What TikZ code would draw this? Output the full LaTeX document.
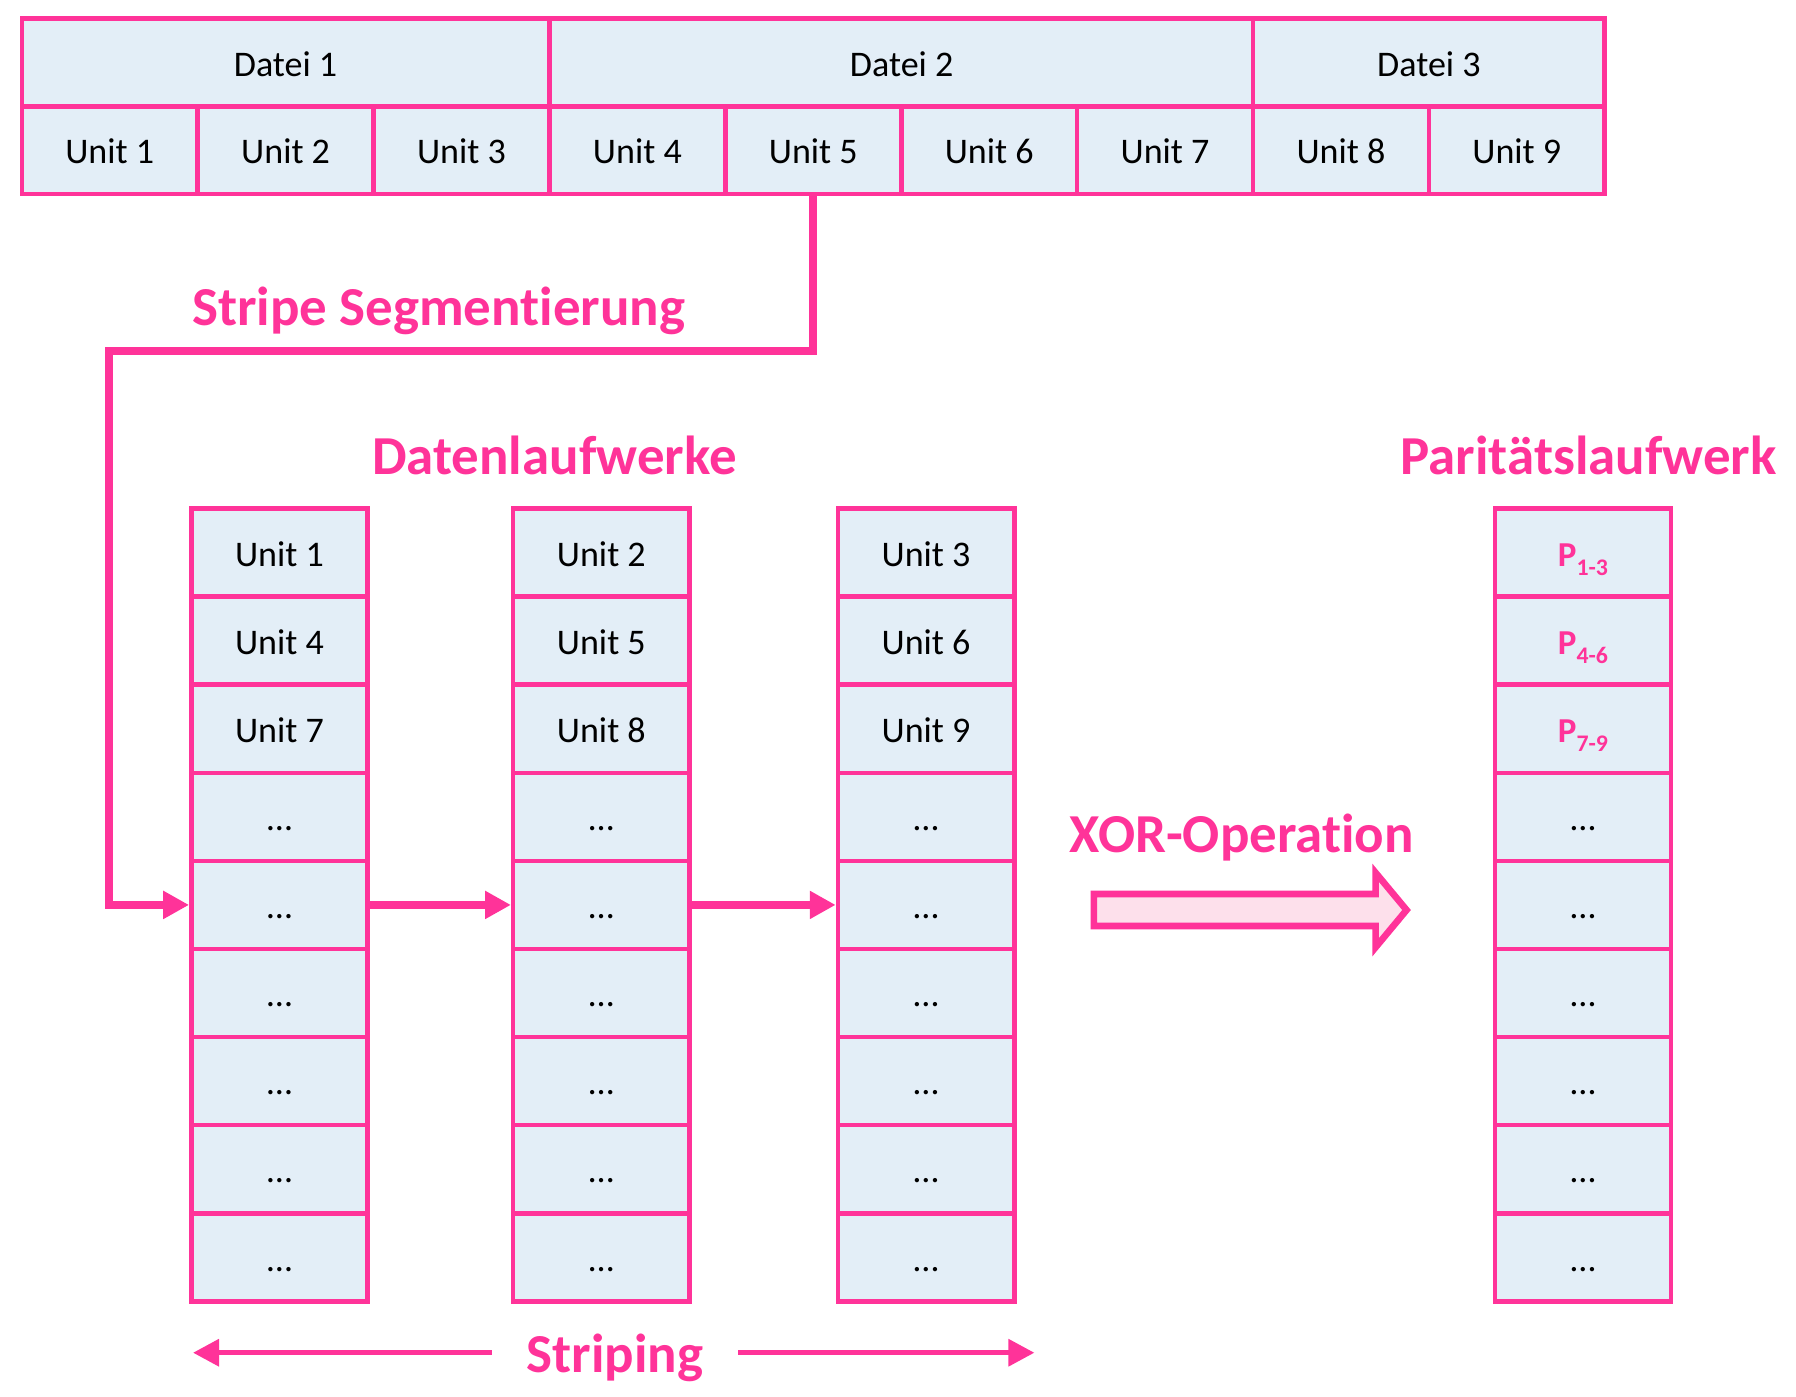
\documentclass[tikz,border=0pt]{standalone}
\usepackage{fontspec}
\setmainfont{Carlito}[Ligatures=NoCommon,RawFeature=-liga]
\usetikzlibrary{arrows.meta}
\definecolor{pk}{HTML}{FF3399}
\definecolor{cellfill}{HTML}{E3EEF7}
\definecolor{xorfill}{HTML}{FDE0EB}
\newcommand{\psub}[1]{\raisebox{-2.6pt}{\fontsize{6.8}{8}\selectfont #1}}
\begin{document}
\begin{tikzpicture}[x=0.0115cm,y=-0.0115cm,
  box/.style={draw=pk,fill=cellfill,line width=1.3pt,inner sep=0pt,
     text height=7.9pt,text depth=0pt,font=\fontsize{10.3}{12}\selectfont},
  topcell/.style={box,minimum width=1.766cm,minimum height=0.88cm},
  colcell/.style={box,minimum width=1.771cm,minimum height=0.8844cm},
  head/.style={text=pk,font=\bfseries\fontsize{15.7}{19}\selectfont,inner sep=0pt},
  tip/.style={-{Triangle[length=7.4pt,width=7.6pt]}},
  conn/.style={draw=pk,line width=2.3pt,tip},
  thinconn/.style={draw=pk,line width=1.3pt,tip}
]
\useasboundingbox (0,0) rectangle (1568,1219);

% top table: units
\foreach \i in {1,...,9}
  \node[topcell] (u\i) at ({19+153.56*(\i-0.5)},131) {Unit \i};
% top table: files
\node[topcell,minimum width=5.298cm] (f1) at (249.3,54.5) {Datei 1};
\node[topcell,minimum width=7.063cm] (f2) at (787.2,54.5) {Datei 2};
\node[topcell,minimum width=3.532cm] (f3) at (1247.5,54.5) {Datei 3};

% data drives
\foreach \c/\L in {1/167,2/448,3/731.5} {
  \foreach \r in {1,...,9} {
    \pgfmathtruncatemacro\n{3*(\r-1)+\c}
    \ifnum\r<4 \def\lab{Unit \n}\else\def\lab{…}\fi
    \node[colcell] (d\c r\r) at ({\L+77},{444+76.9*(\r-0.5)}) {\lab};
  }
}

% parity drive
\foreach \r/\lab in {1/1-3,2/4-6,3/7-9}
  \node[colcell,text=pk,font=\bfseries\fontsize{10}{12}\selectfont] (p\r) at (1382,{444+76.9*(\r-0.5)}) {P\psub{\lab}};
\foreach \r in {4,...,9}
  \node[colcell] (p\r) at (1382,{444+76.9*(\r-0.5)}) {…};

% headings
\node[head,anchor=base] (seg) at (383,284) {Stripe Segmentierung};
\node[head,anchor=base] (dl) at (484,414) {Datenlaufwerke};
\node[head,anchor=base] (pl) at (1387,414) {Paritätslaufwerk};
\node[head,anchor=base] (xor) at (1084,744) {XOR-Operation};
\node[head,anchor=base,inner xsep=0.345cm] (str) at (537,1198) {Striping};

% connectors
\coordinate (bend) at (95,306.5);
\draw[conn] (u5.south) |- (bend) |- (d1r5.west);
\draw[conn] (d1r5.east) -- (d2r5.west);
\draw[conn] (d2r5.east) -- (d3r5.west);

% striping arrows
\coordinate (sL) at (168.6,1181);
\coordinate (sR) at (903,1181);
\draw[thinconn] (str.west |- sL) -- (sL);
\draw[thinconn] (str.east |- sR) -- (sR);

% XOR block arrow
\draw[draw=pk,fill=xorfill,line width=1.9pt]
  (955,780.5) -- (1201,780.5) -- (1201,762) -- (1228,794.5) -- (1201,827)
  -- (1201,808.5) -- (955,808.5) -- cycle;
\end{tikzpicture}
\end{document}
